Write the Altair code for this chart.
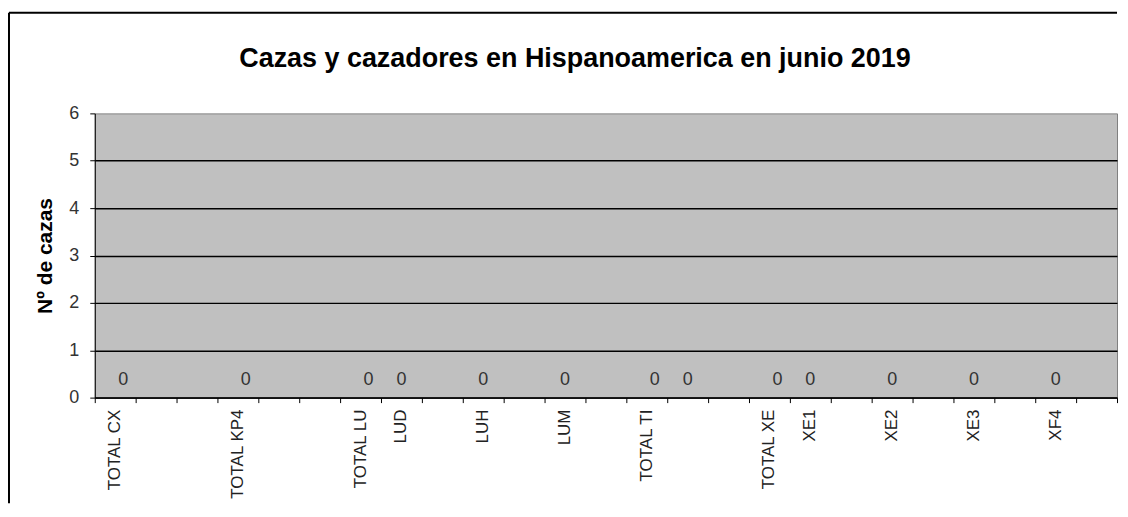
import altair as alt
import pandas as pd

# ---- data ----
categories = ["TOTAL CX", "", "", "TOTAL KP4", "", "", "TOTAL LU", "LUD", "", "LUH",
              "", "LUM", "", "TOTAL TI", "", "", "TOTAL XE", "XE1", "", "XE2",
              "", "XE3", "", "XF4", ""]
totals = [0, None, None, 0, None, None, 0, None, None, None,
          None, None, None, 0, None, None, 0, None, None, None,
          None, None, None, None, None]
details = [None, None, None, None, None, None, None, 0, None, 0,
           None, 0, None, None, 0, None, None, 0, None, 0,
           None, 0, None, 0, None]
y_ticks = [0, 1, 2, 3, 4, 5, 6]

n = len(categories)
df = pd.DataFrame({"idx": list(range(n)), "label": categories,
                   "total": totals, "detail": details})
edges = pd.DataFrame({"edge": list(range(n + 1))})
deco = pd.DataFrame({"k": [0]})

W, H = 1025, 285
FONT = "Liberation Sans"

xscale = alt.Scale(domain=[0, n], nice=False, zero=False)
yscale = alt.Scale(domain=[0, 6], nice=False)

base = alt.Chart(df).transform_calculate(center="datum.idx + 0.5")

axes = alt.Chart(edges).mark_point(opacity=0).encode(
    x=alt.X("edge:Q", scale=xscale,
            axis=alt.Axis(values=list(range(n + 1)), labels=False, title=None,
                          grid=False, tickSize=5, tickColor="#000000",
                          domainColor="#000000", tickWidth=1)),
    y=alt.Y("ey:Q", scale=yscale,
            axis=alt.Axis(values=y_ticks, title="Nº de cazas", titleFontSize=21,
                          titleFont=FONT, titleFontWeight="bold", titleColor="#000000",
                          titlePadding=13, labelFont=FONT, labelFontSize=18,
                          labelColor="#333333", labelPadding=11, tickSize=5,
                          tickColor="#000000", domainColor="#000000",
                          grid=True, gridWidth=1.5,
                          gridColor={"condition": {"test": "datum.value >= 6", "value": "transparent"},
                                     "value": "#000000"})),
).transform_calculate(ey="0")

xlabels = base.transform_filter("datum.label != ''").mark_text(
    angle=270, align="right", baseline="middle", font=FONT, fontSize=17,
    color="#222222"
).encode(
    x=alt.X("center:Q", scale=xscale),
    y=alt.value(H + 12),
    text="label:N",
)

tot_labels = base.transform_filter("datum.total != null").mark_text(
    font=FONT, fontSize=18, color="#333333", baseline="middle", dx=8, dy=-18
).encode(
    x=alt.X("center:Q", scale=xscale),
    y=alt.Y("total:Q", scale=yscale),
    text=alt.Text("total:Q", format="d"),
)

det_labels = base.transform_filter("datum.detail != null").mark_text(
    font=FONT, fontSize=18, color="#333333", baseline="middle", dy=-18
).encode(
    x=alt.X("center:Q", scale=xscale),
    y=alt.Y("detail:Q", scale=yscale),
    text=alt.Text("detail:Q", format="d"),
)

border_left = alt.Chart(deco).mark_rule(color="#000000", strokeWidth=2).encode(
    x=alt.value(-86), y=alt.value(-101), y2=alt.value(H + 106)
)
border_top = alt.Chart(deco).mark_rule(color="#000000", strokeWidth=2).encode(
    x=alt.value(-86), x2=alt.value(W), y=alt.value(-101)
)

chart = alt.layer(axes, xlabels, tot_labels, det_labels, border_left, border_top).properties(
    width=W, height=H,
    padding={"left": 0, "top": 3, "right": 0, "bottom": 0},
    title=alt.TitleParams(
        "Cazas y cazadores en Hispanoamerica en junio 2019",
        font=FONT, fontSize=27, fontWeight="bold", color="#000000",
        anchor="middle", frame="group", dx=-31, offset=-61,
    ),
).configure_view(fill="#C0C0C0", stroke="#808080", strokeWidth=1)

chart.save("out.html", embed_options={"renderer": "svg", "actions": False})
